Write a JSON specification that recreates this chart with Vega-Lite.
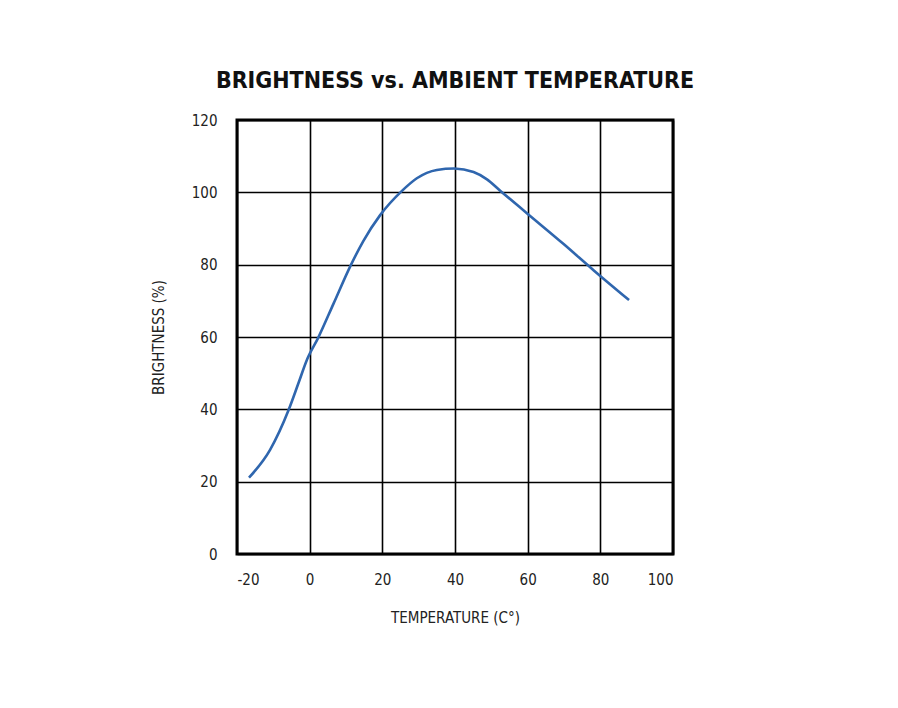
{
  "$schema": "https://vega.github.io/schema/vega-lite/v6.json",
  "width": 436,
  "height": 434,
  "autosize": "none",
  "padding": {"left": 237, "top": 120, "right": 225, "bottom": 154},
  "background": "white",
  "title": {
    "text": "BRIGHTNESS vs. AMBIENT TEMPERATURE",
    "font": "DejaVu Sans Condensed, Liberation Sans",
    "fontSize": 23,
    "fontWeight": "bold",
    "color": "#111",
    "anchor": "middle",
    "offset": 20
  },
  "data": {
    "values": [
      {"t": -16.7, "b": 21.1},
      {"t": -10.9, "b": 28.8},
      {"t": -5.8, "b": 39.8},
      {"t": -3.1, "b": 47.2},
      {"t": -0.8, "b": 53.6},
      {"t": 2.4, "b": 59.9},
      {"t": 6.6, "b": 69.3},
      {"t": 11.2, "b": 79.6},
      {"t": 14.8, "b": 86.6},
      {"t": 19.4, "b": 93.7},
      {"t": 25.4, "b": 100.4},
      {"t": 29.5, "b": 103.9},
      {"t": 35.0, "b": 106.2},
      {"t": 39.8, "b": 106.6},
      {"t": 45.1, "b": 105.6},
      {"t": 48.8, "b": 103.6},
      {"t": 52.5, "b": 100.4},
      {"t": 59.7, "b": 94.3},
      {"t": 69.9, "b": 85.7},
      {"t": 78.2, "b": 78.4},
      {"t": 87.9, "b": 70.2}
    ]
  },
  "mark": {"type": "line", "color": "#2f66ae", "strokeWidth": 2.6, "interpolate": "monotone"},
  "encoding": {
    "x": {
      "field": "t",
      "type": "quantitative",
      "scale": {"domain": [-20, 100], "nice": false, "zero": false},
      "axis": {
        "title": "TEMPERATURE (C°)",
        "values": [-20, 0, 20, 40, 60, 80, 100],
        "labelExpr": "'' + datum.value",
        "titlePadding": 23
      }
    },
    "y": {
      "field": "b",
      "type": "quantitative",
      "scale": {"domain": [0, 120], "nice": false},
      "axis": {
        "title": "BRIGHTNESS (%)",
        "values": [0, 20, 40, 60, 80, 100, 120],
        "titlePadding": 25
      }
    }
  },
  "config": {
    "view": {"stroke": "#000", "strokeWidth": 3},
    "axis": {
      "domain": false,
      "ticks": false,
      "grid": true,
      "gridColor": "#000",
      "gridOpacity": 1,
      "gridWidth": 1.6,
      "labelFont": "DejaVu Sans Condensed, Liberation Sans",
      "labelFontSize": 15,
      "labelColor": "#222",
      "titleFont": "DejaVu Sans Condensed, Liberation Sans",
      "titleFontSize": 15,
      "titleFontWeight": "normal",
      "titleColor": "#222"
    },
    "axisX": {"labelPadding": 18},
    "axisY": {"labelPadding": 20}
  }
}
